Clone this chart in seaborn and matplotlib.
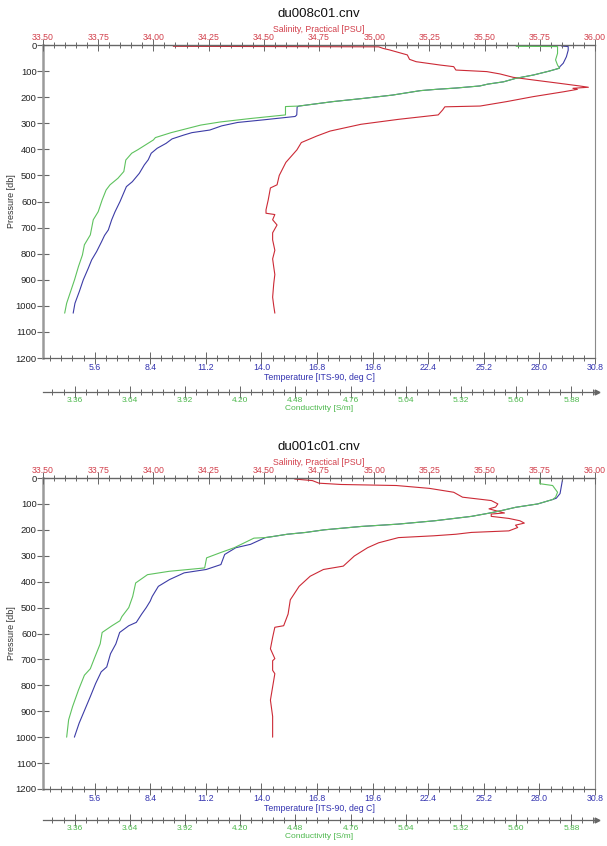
import matplotlib
matplotlib.use("Agg")
import matplotlib.pyplot as plt
import matplotlib.transforms as mtransforms
from matplotlib.ticker import MultipleLocator, FormatStrFormatter
import seaborn as sns

sns.set_theme(style="white")
plt.rcParams['font.family'] = ['Liberation Sans', 'DejaVu Sans']

# ---------------- cast du008c01 ----------------
sal_p_008 = [5, 7, 13, 19, 38, 55, 64, 77, 83, 96, 102, 111, 124, 134, 147, 157, 162,
             166, 170, 179, 198, 217, 234, 237, 249, 268, 285, 304, 330, 349, 374, 402,
             450, 500, 536, 548, 594, 632, 645, 650, 670, 690, 705, 720, 747, 787, 820,
             851, 880, 915, 967, 1000, 1028]
sal_008 = [34.09, 35.02, 35.04, 35.07, 35.15, 35.16, 35.19, 35.30, 35.36, 35.37, 35.51,
           35.57, 35.63, 35.72, 35.84, 35.93, 35.97, 35.90, 35.92, 35.86, 35.72, 35.60,
           35.48, 35.32, 35.31, 35.29, 35.11, 34.94, 34.80, 34.74, 34.67, 34.65, 34.60,
           34.57, 34.56, 34.53, 34.52, 34.51, 34.51, 34.55, 34.54, 34.56, 34.55, 34.54,
           34.54, 34.55, 34.54, 34.545, 34.55, 34.545, 34.54, 34.545, 34.55]

tmp_p_008 = [4, 6, 20, 45, 70, 83, 89, 100, 115, 128, 141, 150, 157, 165, 170, 175, 192,
             205, 217, 225, 234, 237, 268, 274, 287, 297, 310, 326, 336, 345, 360, 377,
             396, 415, 440, 460, 492, 524, 543, 575, 600, 639, 670, 709, 730, 754, 792,
             824, 856, 900, 945, 990, 1028]
tmp_008 = [29.12, 29.45, 29.45, 29.36, 29.20, 29.03, 29.00, 28.50, 27.70, 26.80, 26.20,
           25.40, 25.00, 23.80, 22.80, 22.00, 20.60, 19.10, 17.60, 16.80, 15.90, 15.80,
           15.78, 15.70, 14.10, 12.80, 12.00, 11.40, 10.50, 10.10, 9.50, 9.20, 8.75, 8.45,
           8.30, 8.10, 7.85, 7.50, 7.20, 7.02, 6.88, 6.63, 6.46, 6.29, 6.10, 5.95, 5.70,
           5.45, 5.28, 5.03, 4.83, 4.61, 4.52]

cnd_p_008 = [5, 6, 32, 57, 77, 89, 100, 115, 128, 141, 150, 157, 165, 170, 175, 192, 205,
             217, 225, 234, 236, 268, 282, 295, 307, 336, 355, 364, 383, 402, 415, 441,
             485, 511, 536, 556, 594, 639, 670, 728, 766, 805, 849, 900, 945, 990, 1028]
cnd_008 = [5.60, 5.81, 5.81, 5.80, 5.81, 5.82, 5.768, 5.688, 5.597, 5.537, 5.456, 5.416,
           5.295, 5.194, 5.114, 4.973, 4.822, 4.671, 4.590, 4.499, 4.43, 4.43, 4.25, 4.10,
           4.00, 3.85, 3.77, 3.76, 3.72, 3.68, 3.65, 3.62, 3.61, 3.58, 3.54, 3.52, 3.50,
           3.48, 3.455, 3.44, 3.41, 3.40, 3.38, 3.36, 3.34, 3.32, 3.31]

# ---------------- cast du001c01 ----------------
sal_p_001 = [4, 10, 20, 25, 29, 40, 55, 74, 87, 100, 112, 119, 126, 135, 139, 148, 156,
             165, 174, 182, 191, 204, 210, 217, 223, 230, 250, 269, 301, 340, 353, 379,
             418, 470, 525, 570, 576, 615, 659, 697, 705, 742, 755, 806, 857, 920, 1000]
sal_001 = [34.64, 34.72, 34.75, 34.85, 35.10, 35.25, 35.36, 35.40, 35.53, 35.56, 35.55,
           35.52, 35.55, 35.59, 35.53, 35.53, 35.61, 35.66, 35.68, 35.64, 35.65, 35.61,
           35.44, 35.37, 35.27, 35.11, 35.02, 34.97, 34.91, 34.86, 34.77, 34.71, 34.66,
           34.62, 34.61, 34.59, 34.55, 34.54, 34.53, 34.55, 34.54, 34.54, 34.55, 34.54,
           34.53, 34.54, 34.54]

tmp_p_001 = [4, 60, 78, 83, 100, 113, 126, 135, 148, 165, 178, 187, 200, 210, 217, 226,
             230, 256, 269, 295, 334, 353, 366, 392, 418, 457, 475, 500, 525, 557, 570,
             596, 640, 678, 729, 748, 793, 844, 895, 946, 1000]
tmp_001 = [29.17, 29.04, 28.85, 28.67, 27.92, 26.81, 26.07, 25.51, 24.58, 22.73, 20.87,
           19.02, 17.16, 16.23, 15.30, 14.56, 14.19, 13.45, 12.71, 12.15, 11.96, 11.22,
           10.11, 9.37, 8.81, 8.50, 8.40, 8.20, 7.97, 7.70, 7.32, 6.86, 6.67, 6.40, 6.21,
           5.93, 5.65, 5.38, 5.10, 4.82, 4.58]

cnd_p_001 = [4, 22, 29, 55, 74, 83, 100, 113, 126, 135, 148, 165, 178, 187, 200, 210, 217,
             226, 230, 232, 269, 288, 308, 347, 360, 373, 405, 457, 500, 535, 551, 570,
             596, 640, 697, 736, 761, 818, 882, 933, 1000]
cnd_001 = [5.72, 5.72, 5.785, 5.81, 5.80, 5.785, 5.710, 5.598, 5.524, 5.467, 5.374, 5.187,
           5.000, 4.814, 4.626, 4.533, 4.439, 4.364, 4.327, 4.27, 4.17, 4.10, 4.03, 4.02,
           3.84, 3.73, 3.67, 3.655, 3.635, 3.60, 3.59, 3.55, 3.50, 3.49, 3.46, 3.44, 3.41,
           3.38, 3.35, 3.33, 3.32]

# axis ranges
pres_range = (1200, 0)
sal_range = (33.5, 36.0)
tmp_range = (3.0, 30.8)
cnd_range = (3.2, 6.0)

RED, BLUE, GREEN = '#cc2a36', '#3c3ca6', '#5ec25e'
RED_T, BLUE_T, GREEN_T = '#d2404c', '#3434b0', '#4cb84c'
AX_COL = '#666666'

W, H = 607, 846
fig = plt.figure(figsize=(W / 100, H / 100), dpi=100)


def set_steps(axis, major, minor, fmt):
    axis.set_major_locator(MultipleLocator(major))
    axis.set_minor_locator(MultipleLocator(minor))
    axis.set_major_formatter(FormatStrFormatter(fmt))


def draw_cast(top_px, bot_px, title, cond_out, sp, s, tp, t, cp, c):
    rect = [43 / W, 1 - bot_px / H, 552 / W, (bot_px - top_px) / H]
    hpx = bot_px - top_px
    ax = fig.add_axes(rect)
    ax_s = ax.twiny()
    ax_c = ax.twiny()

    sns.lineplot(x=t, y=tp, ax=ax, sort=False, estimator=None, color=BLUE,
                 linewidth=0.8, legend=False)
    sns.lineplot(x=s, y=sp, ax=ax_s, sort=False, estimator=None, color=RED,
                 linewidth=0.8, legend=False)
    sns.lineplot(x=c, y=cp, ax=ax_c, sort=False, estimator=None, color=GREEN,
                 linewidth=0.8, legend=False)

    ax.set_xlim(*tmp_range)
    ax_s.set_xlim(*sal_range)
    ax_c.set_xlim(*cnd_range)
    ax.set_ylim(*pres_range)

    # pressure axis
    ax.yaxis.set_major_locator(MultipleLocator(100))
    ax.yaxis.set_major_formatter(FormatStrFormatter('%d'))
    ax.tick_params(axis='y', which='major', direction='inout', length=8, width=0.8,
                   color=AX_COL, labelsize=6.8, pad=0.5, labelcolor='#222222', left=True)
    ax.set_ylabel('Pressure [db]', fontsize=6.5, color='#333333')
    ax.yaxis.set_label_coords(-27 / 552, 0.5)

    # temperature axis (bottom)
    set_steps(ax.xaxis, 2.8, 0.56, '%.1f')
    ax.tick_params(axis='x', which='both', direction='inout', color=AX_COL, width=0.7,
                   bottom=True, top=False, labelbottom=True, labeltop=False,
                   labelsize=6.3, labelcolor=BLUE_T, pad=-0.5)
    ax.tick_params(axis='x', which='major', length=8)
    ax.tick_params(axis='x', which='minor', length=4)
    ax.set_xlabel('Temperature [ITS-90, deg C]', fontsize=6.3, color=BLUE_T)
    ax.xaxis.set_label_coords(0.5, -15 / hpx)

    # salinity axis (top)
    set_steps(ax_s.xaxis, 0.25, 0.05, '%.2f')
    ax_s.tick_params(axis='x', which='both', direction='inout', color=AX_COL, width=0.7,
                     top=True, bottom=False, labeltop=True, labelbottom=False,
                     labelsize=6.3, labelcolor=RED_T, pad=-2.0)
    ax_s.tick_params(axis='x', which='major', length=9)
    ax_s.tick_params(axis='x', which='minor', length=5)
    ax_s.set_xlabel('Salinity, Practical [PSU]', fontsize=6.3, color=RED_T)
    ax_s.xaxis.set_label_position('top')
    ax_s.xaxis.set_label_coords(0.5, 1 + 13 / hpx)

    # conductivity axis (offset below)
    ax_c.xaxis.set_ticks_position('bottom')
    ax_c.xaxis.set_label_position('bottom')
    ax_c.spines['bottom'].set_position(('outward', cond_out))
    set_steps(ax_c.xaxis, 0.28, 0.056, '%.2f')
    ax_c.tick_params(axis='x', which='both', direction='inout', color=AX_COL, width=0.7,
                     top=False, bottom=True, labeltop=False, labelbottom=True,
                     labelsize=6.0, labelcolor=GREEN_T, pad=-0.5)
    ax_c.tick_params(axis='x', which='major', length=8)
    ax_c.tick_params(axis='x', which='minor', length=4)
    ax_c.set_xlabel('Conductivity [S/m]', fontsize=6.0, color=GREEN_T)
    ax_c.xaxis.set_label_coords(0.5, -(cond_out * 100 / 72 + 13) / hpx)

    # spines
    for a in (ax_s, ax_c):
        for side in ('left', 'right', 'top', 'bottom'):
            a.spines[side].set_visible(False)
    ax.spines['top'].set_visible(False)
    ax_s.spines['top'].set_visible(True)
    ax_s.spines['top'].set_color(AX_COL)
    ax_s.spines['top'].set_linewidth(1.0)
    ax_c.spines['bottom'].set_visible(True)
    ax_c.spines['bottom'].set_color(AX_COL)
    ax_c.spines['bottom'].set_linewidth(0.9)
    ax.spines['left'].set_color('#9a9a9a')
    ax.spines['left'].set_linewidth(1.8)
    ax.spines['bottom'].set_color(AX_COL)
    ax.spines['bottom'].set_linewidth(0.9)
    ax.spines['right'].set_color('#8a8a8a')
    ax.spines['right'].set_linewidth(0.8)
    for a in (ax, ax_s, ax_c):
        a.set_facecolor('none')
        a.grid(False)
    ax_s.set_ylabel('')
    ax_c.set_ylabel('')
    ax_s.tick_params(axis='y', left=False, right=False, labelleft=False, labelright=False)
    ax_c.tick_params(axis='y', left=False, right=False, labelleft=False, labelright=False)

    # arrow head closing the conductivity axis
    off = mtransforms.ScaledTranslation(0, -cond_out / 72, fig.dpi_scale_trans)
    ax_c.plot([1.004], [0], marker='>', markersize=3.5, color=AX_COL,
              transform=ax_c.transAxes + off, clip_on=False)

    fig.text(0.5 * (43 + 595) / W, 1 - (top_px - 31) / H, title, ha='center',
             va='center', fontsize=9.5, color='#111111')
    return ax


draw_cast(45, 358, 'du008c01.cnv', 24.5,
          sal_p_008, sal_008, tmp_p_008, tmp_008, cnd_p_008, cnd_008)
draw_cast(478, 789, 'du001c01.cnv', 22.5,
          sal_p_001, sal_001, tmp_p_001, tmp_001, cnd_p_001, cnd_001)

fig.savefig('out.png', dpi=100)
